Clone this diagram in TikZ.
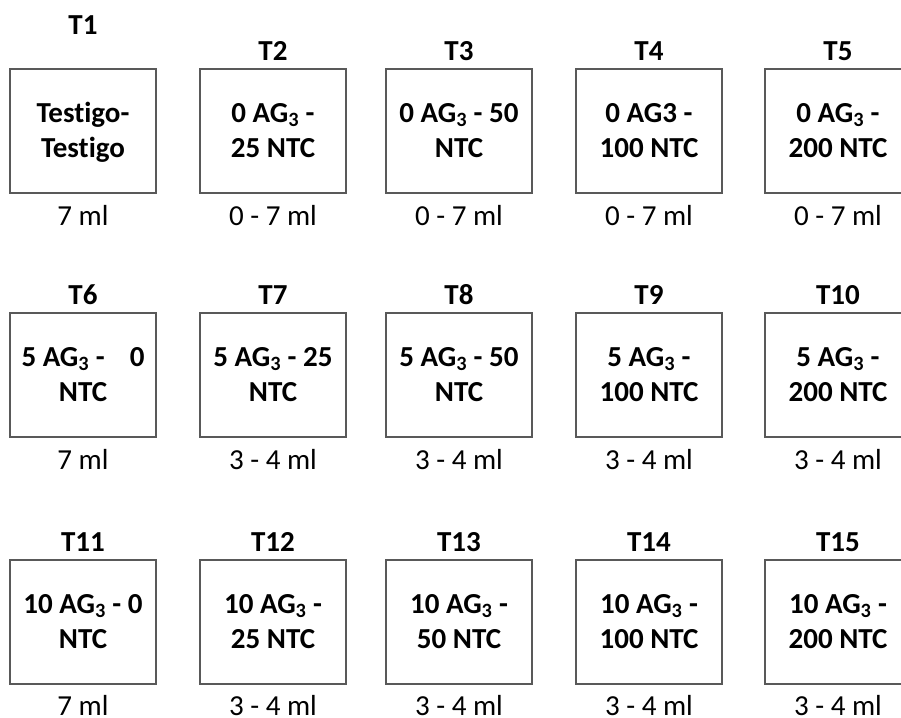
\documentclass[tikz,border=0pt]{standalone}
\usepackage{fontspec}
\setmainfont{Carlito}[Ligatures=NoCommon]
\definecolor{boxgray}{HTML}{595959}
\newcommand{\sub}[1]{\textsubscript{#1}}
\begin{document}
\begin{tikzpicture}[x=1pt,y=-1pt,
  treat/.style={draw=boxgray,line width=2pt,minimum width=146pt,minimum height=124pt,inner sep=0pt,anchor=north},
  ttl/.style={font=\fontsize{29}{35}\selectfont\bfseries,anchor=base,inner sep=0pt},
  inside/.style={font=\fontsize{29}{35}\selectfont\bfseries,anchor=base,inner sep=0pt,align=center},
  vol/.style={font=\fontsize{29}{35}\selectfont,anchor=base,inner sep=0pt}]
\useasboundingbox (0,0) rectangle (901,717);
\clip (0,0) rectangle (901,717);
% boxes
\foreach \n/\cx/\ty in {1/83/68,2/273/68,3/459/68,4/649/68,5/838/68,
                         6/83/312,7/273/312,8/459/312,9/649/312,10/838/312,
                         11/83/559,12/273/559,13/459/559,14/649/559,15/838/559}
  \node[treat] (b\n) at (\cx,\ty) {};
% titles
\node[ttl] (t1) at (83,35) {T1};
\foreach \n in {2,3,4,5}
  \node[ttl] (t\n) at ([yshift=8pt]b\n.north) {T\n};
\foreach \n in {6,...,15}
  \node[ttl] (t\n) at ([yshift=7.5pt]b\n.north) {T\n};
% inner texts
\newcommand{\intext}[3]{\node[inside] (x#1) at ([yshift=-54pt]b#1.north) {\begin{tabular}[t]{@{}c@{}}#2\\#3\end{tabular}};}
\renewcommand{\arraystretch}{1}
\intext{1}{Testigo-}{Testigo}
\intext{2}{0 AG\sub{3} -}{25 NTC}
\intext{3}{0 AG\sub{3} - 50}{NTC}
\intext{4}{0 AG3 -}{100 NTC}
\intext{5}{0 AG\sub{3} -}{200 NTC}
\intext{6}{\makebox[123pt][s]{5 AG\sub{3} -\hfill 0}}{NTC}
\intext{7}{5 AG\sub{3} - 25}{NTC}
\intext{8}{5 AG\sub{3} - 50}{NTC}
\intext{9}{5 AG\sub{3} -}{100 NTC}
\intext{10}{5 AG\sub{3} -}{200 NTC}
\intext{11}{10 AG\sub{3} - 0}{NTC}
\intext{12}{10 AG\sub{3} -}{25 NTC}
\intext{13}{10 AG\sub{3} -}{50 NTC}
\intext{14}{10 AG\sub{3} -}{100 NTC}
\intext{15}{10 AG\sub{3} -}{200 NTC}
% volumes
\foreach \n/\v in {1/7 ml,2/0 - 7 ml,3/0 - 7 ml,4/0 - 7 ml,5/0 - 7 ml,
                   6/7 ml,7/3 - 4 ml,8/3 - 4 ml,9/3 - 4 ml,10/3 - 4 ml}
  \node[vol] (v\n) at ([yshift=-31pt]b\n.south) {\v};
\foreach \n/\v in {11/7 ml,12/3 - 4 ml,13/3 - 4 ml,14/3 - 4 ml,15/3 - 4 ml}
  \node[vol] (v\n) at ([yshift=-30pt]b\n.south) {\v};
\end{tikzpicture}
\end{document}
